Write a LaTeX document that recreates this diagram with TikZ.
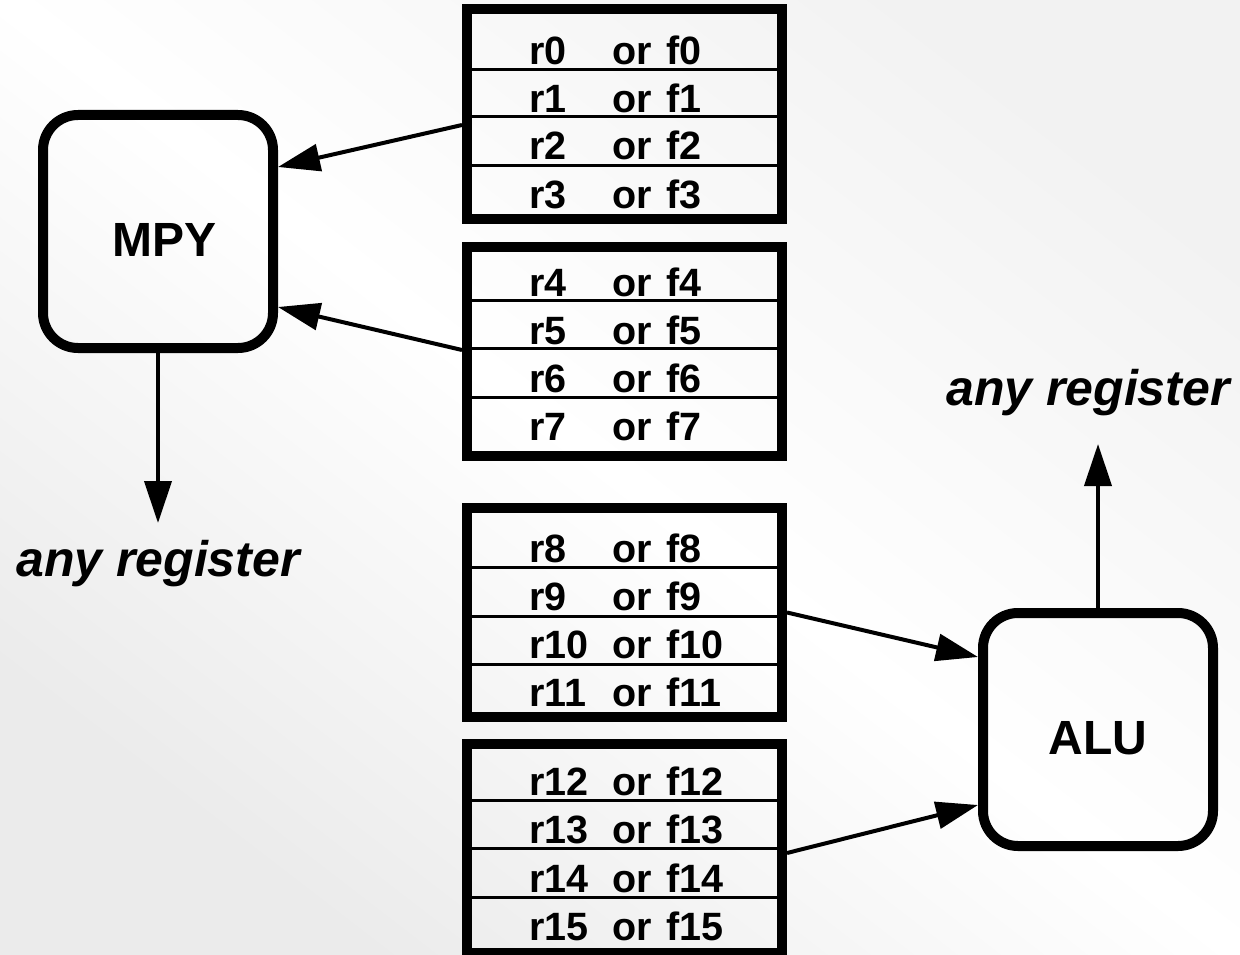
\documentclass[tikz,border=0pt]{standalone}
\usepackage{fontspec}
\setmainfont{Liberation Sans}
\usetikzlibrary{arrows.meta}

\begin{document}
\begin{tikzpicture}[x=1pt,y=-1pt,
  regframe/.style={draw, line width=10pt, rectangle, minimum width=315pt,
                   minimum height=209pt, inner sep=0pt},
  sepline/.style={line width=3pt},
  regtext/.style={anchor=base west, inner sep=0pt,
                  font=\fontsize{39.5}{41}\selectfont\bfseries},
  unitbox/.style={draw, line width=10pt, rounded corners=35pt,
                  minimum width=230pt, minimum height=233pt, inner sep=0pt},
  unitlabel/.style={inner sep=0pt, font=\fontsize{48}{50}\selectfont\bfseries},
  destlabel/.style={anchor=base, inner sep=0pt,
                    font=\fontsize{50}{52}\selectfont\bfseries\itshape},
  flow/.style={line width=4pt, -{Triangle[length=42pt,width=27pt]}}
]
% page and background
\useasboundingbox (0,0) rectangle (1240,955);
\fill[top color=black!5, bottom color=black!8, middle color=white,
      shading angle=-37.6] (0,0) rectangle (1240,955);

% register row dividers
\foreach \s in {70,117,166, 300,348,397, 567,616,664, 800,848,897}
  \draw[sepline] (462,\s) -- (777,\s);

% register banks
\node[regframe] (blk1) at (624.5,114) {};
\node[regframe] (blk2) at (624.5,351.5) {};
\node[regframe] (blk3) at (624.5,612.5) {};
\node[regframe] (blk4) at (624.5,848.5) {};

% register names
\foreach \n/\b in {0/65,1/113,2/160,3/208,4/296,5/344,6/392,7/440,
                   8/562,9/610,10/658,11/706,12/795,13/843,14/892,15/940}
  \node[regtext] (row\n) at (529,\b)
    {\makebox[83pt][l]{r\n}\makebox[54pt][l]{or}f\n};

% functional units
\node[unitbox] (mpy) at (158,231.5) {};
\node[unitlabel] (mpylbl) at (165,240) {MPY};
\node[unitbox] (alu) at (1098,729.5) {};
\node[unitlabel] (alulbl) at (1098,738) {ALU};

% destinations
\node[destlabel] (mpydest) at (158,576) {any register};
\node[destlabel] (aludest) at (1088,405) {any register};
\coordinate (mpyout) at (158,523);
\coordinate (aluout) at (1098,444);

% operand paths
\draw[flow] ([yshift=-11pt]blk1.west) -- ([yshift=64.5pt]mpy.east);
\draw[flow] ([yshift=1.5pt]blk2.west) -- ([yshift=-75.5pt]mpy.east);
\draw[flow] (blk3.east) -- ([yshift=72.5pt]alu.west);
\draw[flow] ([yshift=-4.5pt]blk4.east) -- ([yshift=-75.5pt]alu.west);

% result paths
\draw[flow] (mpy.south) -- (mpyout);
\draw[flow] (alu.north) -- (aluout);
\end{tikzpicture}
\end{document}
